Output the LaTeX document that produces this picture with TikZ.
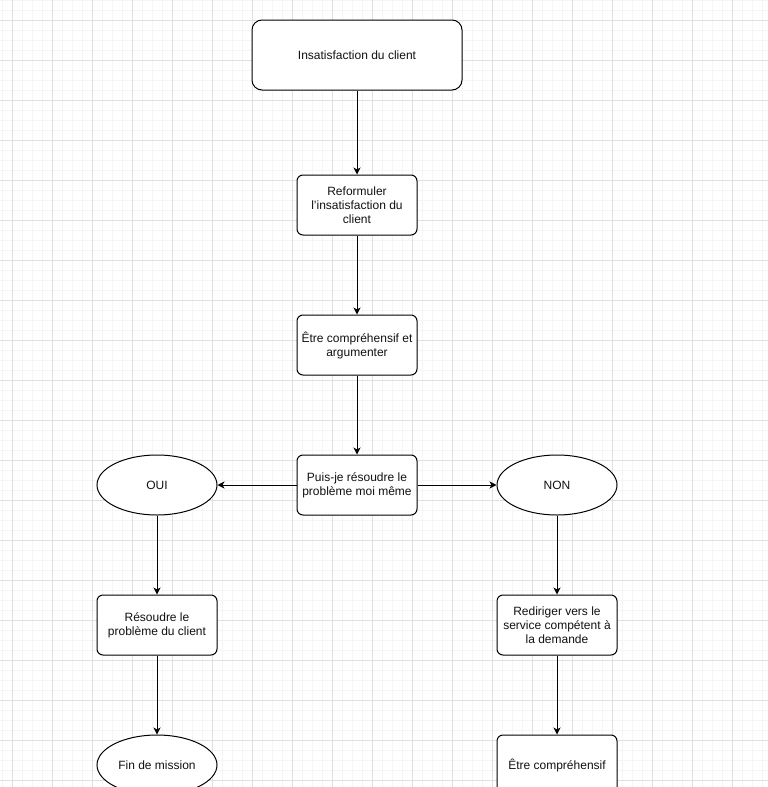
\documentclass[tikz,border=0pt]{standalone}
\usepackage{fontspec}
\setmainfont{Liberation Sans}
\usetikzlibrary{arrows.meta,shapes.geometric}
\definecolor{gminor}{HTML}{F5F5F5}
\definecolor{gmajor}{HTML}{E0E0E0}
\definecolor{txt}{HTML}{111111}
\begin{document}
\begin{tikzpicture}[x=1pt,y=-1pt,
  every node/.style={font=\fontsize{12}{14}\selectfont, text=txt, align=center, inner sep=0pt},
  rbox/.style={draw=black, line width=1pt, rounded corners=6pt, minimum width=120pt, minimum height=60pt, fill=white},
  bigbox/.style={draw=black, line width=1pt, rounded corners=10pt, minimum width=210pt, minimum height=70pt, fill=white},
  oval/.style={draw=black, line width=1pt, ellipse, minimum width=120pt, minimum height=60pt, fill=white},
  conn/.style={draw=black, line width=1pt, -{Stealth[length=7pt,width=7pt,inset=2pt]}}
]
\useasboundingbox (0,0) rectangle (768,787);
\clip (0,0) rectangle (768,787);
\fill[white] (0,0) rectangle (768,787);
\foreach \x in {2,12,...,762} \draw[gminor, line width=1pt] (\x,0) -- (\x,787);
\foreach \y in {0,10,...,780} \draw[gminor, line width=1pt] (0,\y) -- (768,\y);
\foreach \x in {12,52,...,762} \draw[gmajor, line width=1pt] (\x,0) -- (\x,787);
\foreach \y in {20,60,...,780} \draw[gmajor, line width=1pt] (0,\y) -- (768,\y);

\node[bigbox] (a) at (357,55) {Insatisfaction du client};
\node[rbox] (b) at (357,205) {Reformuler\\l'insatisfaction du\\client};
\node[rbox] (c) at (357,345) {Être compréhensif et\\argumenter};
\node[rbox] (d) at (357,485) {Puis-je résoudre le\\problème moi même};
\node[oval] (oui) at (157,485) {OUI};
\node[oval] (non) at (557,485) {NON};
\node[rbox] (e) at (157,625) {Résoudre le\\problème du client};
\node[rbox] (f) at (557,625) {Rediriger vers le\\service compétent à\\la demande};
\node[oval] (g) at (157,765) {Fin de mission};
\node[rbox] (h) at (557,765) {Être compréhensif};

\draw[conn] (a) -- (b);
\draw[conn] (b) -- (c);
\draw[conn] (c) -- (d);
\draw[conn] (d) -- (oui);
\draw[conn] (d) -- (non);
\draw[conn] (oui) -- (e);
\draw[conn] (non) -- (f);
\draw[conn] (e) -- (g);
\draw[conn] (f) -- (h);
\end{tikzpicture}
\end{document}
